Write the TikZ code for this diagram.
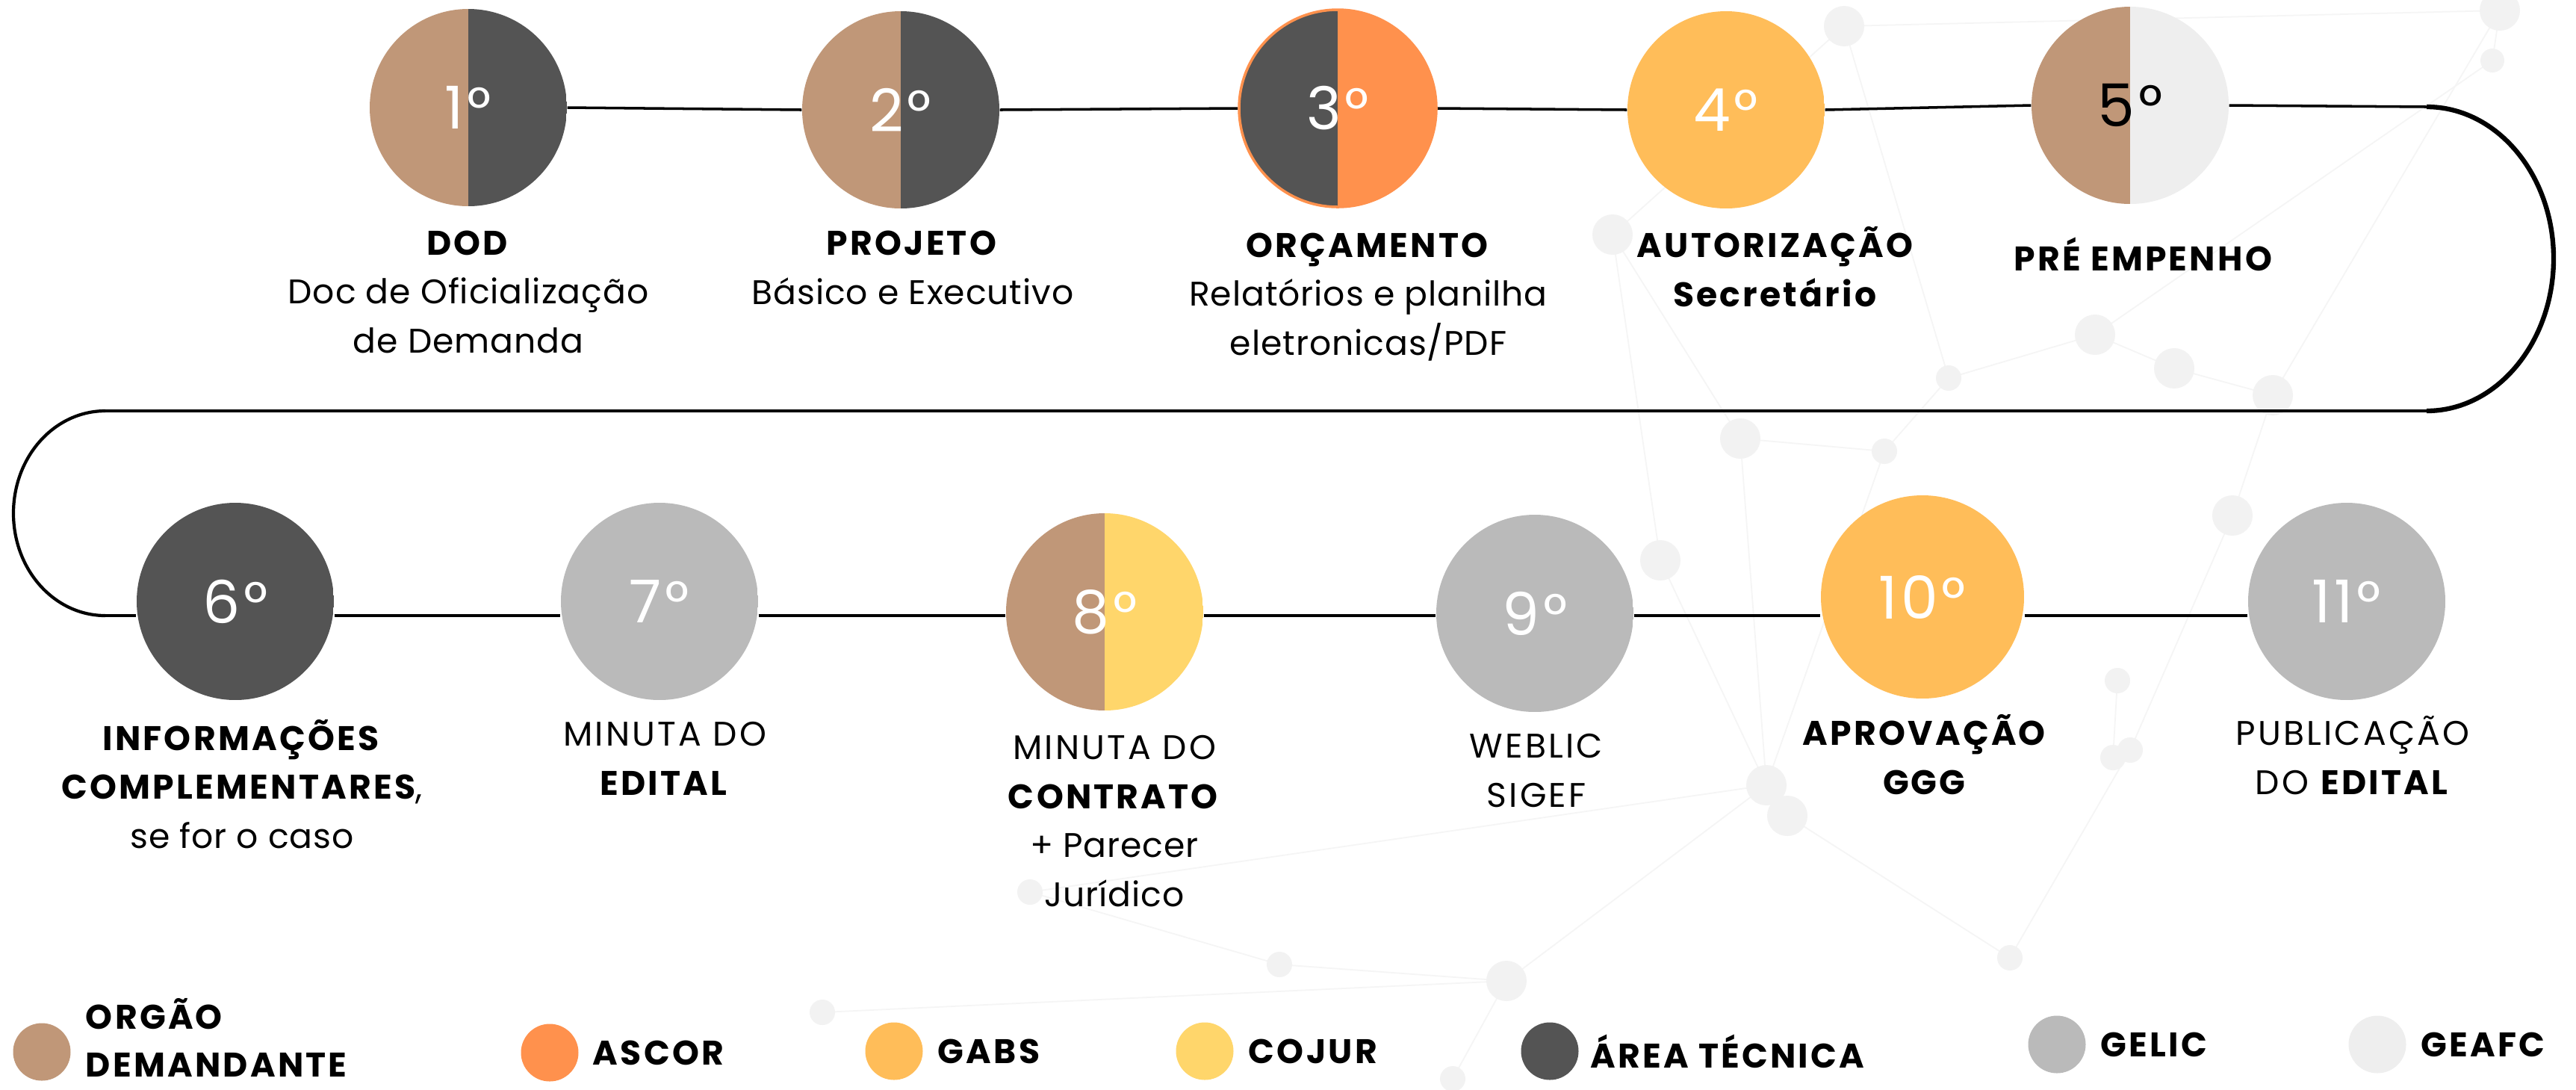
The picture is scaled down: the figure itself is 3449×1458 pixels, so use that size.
\documentclass[tikz,border=0pt]{standalone}
\usepackage{fontspec}
\setmainfont{Poppins}[LetterSpace=2, BoldFeatures={LetterSpace=7}]
\newfontfamily\largo{Poppins}[LetterSpace=7]
\newfontfamily\numeral{Poppins}[LetterSpace=6]
\usetikzlibrary{positioning,backgrounds}

\definecolor{orgao}{HTML}{C09778}
\definecolor{ascor}{HTML}{FF914D}
\definecolor{gabs}{HTML}{FFBD59}
\definecolor{cojur}{HTML}{FFD66B}
\definecolor{tecnica}{HTML}{545454}
\definecolor{gelic}{HTML}{BABABA}
\definecolor{geafc}{HTML}{EEEEEE}
\definecolor{redecor}{HTML}{F2F2F2}
\definecolor{redelin}{HTML}{F5F5F5}

\begin{document}
\begin{tikzpicture}[x=0.1mm, y=-0.1mm,
	etapa/.style 2 args={circle, minimum size=2.64cm, inner sep=0pt, text=white,
		font=\numeral\fontsize{22.5}{26}\selectfont,
		path picture={
			\fill[#1] (path picture bounding box.south west) rectangle (path picture bounding box.north);
			\fill[#2] (path picture bounding box.south) rectangle (path picture bounding box.north east);}},
	rotulo/.style={align=center, anchor=base, inner sep=0pt, font=\fontsize{13}{18.6}\selectfont},
	legenda/.style={circle, minimum size=0.77cm, inner sep=0pt, fill=#1},
	legtexto/.style={align=left, inner sep=0pt, font=\bfseries\fontsize{13}{18}\selectfont},
	linha/.style={line width=1pt},
	curva/.style={line width=1.8pt},
	rede/.style={draw=redelin, line width=0.5pt},
	ponto/.style={fill=redecor}]

		\useasboundingbox (0,0) rectangle (3449,1458);

		%---------------------
		% etapas, linha 1
		%---------------------
		\node[etapa={orgao}{tecnica}] (s1) at (627,144) {1°};
		\node[etapa={orgao}{tecnica}] (s2) at (1206,147) {2°};
		\node[etapa={tecnica}{ascor}, draw=ascor, line width=1pt] (s3) at (1791,145) {3°};
		\node[etapa={gabs}{gabs}] (s4) at (2311,147) {4°};
		\node[etapa={orgao}{geafc}, text=black] (s5) at (2852,141) {5°};

		%---------------------
		% etapas, linha 2
		%---------------------
		\node[etapa={tecnica}{tecnica}] (s6) at (315,805) {6°};
		\node[etapa={gelic}{gelic}] (s7) at (883,805) {7°};
		\node[etapa={orgao}{cojur}] (s8) at (1479,819) {8°};
		\node[etapa={gelic}{gelic}] (s9) at (2055,821) {9°};
		\node[etapa={gabs}{gabs}, minimum size=2.72cm] (s10) at (2574,799) {10°};
		\node[etapa={gelic}{gelic}] (s11) at (3142,805) {11°};

		% rotulos 1
		\node[rotulo] (t1) at (627,472) {\textbf{DOD}\\Doc de Oficialização\\de Demanda};
		\node[rotulo] (t2) at (1222,407) {\textbf{PROJETO}\\Básico e Executivo};
		\node[rotulo] (t3) at (1832,475) {\textbf{ORÇAMENTO}\\Relatórios e planilha\\eletronicas/PDF};
		\node[rotulo] (t4) at (2378,410) {\textbf{AUTORIZAÇÃO}\\\textbf{Secretário}};
		\node[rotulo] (t5) at (2871,362) {\textbf{PRÉ EMPENHO}};

		% rotulos 2
		\node[rotulo] (t6) at (324,1135) {\textbf{INFORMAÇÕES}\\\textbf{COMPLEMENTARES},\\se for o caso};
		\node[rotulo] (t7) at (890,1064) {{\largo MINUTA DO}\\\textbf{EDITAL}};
		\node[rotulo] (t8) at (1492,1213) {{\largo MINUTA DO}\\\textbf{CONTRATO}\\+ Parecer\\Jurídico};
		\node[rotulo] (t9) at (2057,1080) {{\largo WEBLIC}\\{\largo SIGEF}};
		\node[rotulo] (t10) at (2578,1063) {\textbf{APROVAÇÃO}\\\textbf{GGG}};
		\node[rotulo] (t11) at (3150,1063) {{\largo PUBLICAÇÃO}\\{\largo DO} \textbf{EDITAL}};

		%---------------------
		% legenda
		%---------------------
		\node[legenda=orgao] (k1) at (56,1408) {};
		\node[legtexto, right=0.19cm of k1, yshift=0.19cm] (k1t) {ORGÃO\\DEMANDANTE};
		\node[legenda=ascor] (k2) at (736,1409) {};
		\node[legtexto, right=0.18cm of k2] (k2t) {ASCOR};
		\node[legenda=gabs] (k3) at (1197,1407) {};
		\node[legtexto, right=0.19cm of k3] (k3t) {GABS};
		\node[legenda=cojur] (k4) at (1613,1407) {};
		\node[legtexto, right=0.19cm of k4] (k4t) {COJUR};
		\node[legenda=tecnica] (k5) at (2075,1407) {};
		\node[legtexto, right=0.15cm of k5] (k5t) {ÁREA TÉCNICA};
		\node[legenda=gelic] (k6) at (2754,1398) {};
		\node[legtexto, right=0.19cm of k6] (k6t) {GELIC};
		\node[legenda=geafc] (k7) at (3183,1398) {};
		\node[legtexto, right=0.19cm of k7] (k7t) {GEAFC};

		\begin{pgfonlayer}{background}
			\fill[white] (0,0) rectangle (3449,1458);

			%---------------------
			% rede de fundo
			%---------------------
			\coordinate (n1) at (2469,35);
			\coordinate (n2) at (3347,14);
			\coordinate (n3) at (3337,81);
			\coordinate (n4) at (2159,314);
			\coordinate (n5) at (2805,448);
			\coordinate (n6) at (2911,493);
			\coordinate (n7) at (2609,506);
			\coordinate (n8) at (3043,529);
			\coordinate (n9) at (2330,587);
			\coordinate (n10) at (2523,604);
			\coordinate (n11) at (2989,690);
			\coordinate (n12) at (2223,750);
			\coordinate (n13) at (2835,911);
			\coordinate (n14) at (2852,1004);
			\coordinate (n15) at (2829,1014);
			\coordinate (n16) at (2365,1051);
			\coordinate (n17) at (2393,1092);
			\coordinate (n18) at (2691,1282);
			\coordinate (n19) at (2017,1313);
			\coordinate (n20) at (1379,1194);
			\coordinate (n21) at (1713,1291);
			\coordinate (n22) at (1101,1355);
			\coordinate (n23) at (1945,1444);

			\draw[rede] (n1) -- (n2);
			\draw[rede] (n1) -- (n4);
			\draw[rede] (n1) -- (n7);
			\draw[rede] (n2) -- (n3);
			\draw[rede] (n2) -- (n8);
			\draw[rede] (n3) -- (n5);
			\draw[rede] (n4) -- (n9);
			\draw[rede] (n4) -- (n12);
			\draw[rede] (n9) -- (n10);
			\draw[rede] (n10) -- (n7);
			\draw[rede] (n7) -- (n5);
			\draw[rede] (n5) -- (n6);
			\draw[rede] (n6) -- (n8);
			\draw[rede] (n8) -- (n11);
			\draw[rede] (n11) -- (n14);
			\draw[rede] (n10) -- (n16);
			\draw[rede] (n9) -- (n16);
			\draw[rede] (n12) -- (n16);
			\draw[rede] (n16) -- (n17);
			\draw[rede] (n17) -- (n18);
			\draw[rede] (n16) -- (n19);
			\draw[rede] (n16) -- (n20);
			\draw[rede] (n19) -- (n21);
			\draw[rede] (n21) -- (n20);
			\draw[rede] (n22) -- (n19);
			\draw[rede] (n19) -- (n23);
			\draw[rede] (n14) -- (n18);
			\draw[rede] (n13) -- (n15);

			\fill[ponto] (n1) circle (27);
			\fill[ponto] (n2) circle (27);
			\fill[ponto] (n3) circle (16);
			\fill[ponto] (n4) circle (27);
			\fill[ponto] (n5) circle (27);
			\fill[ponto] (n6) circle (27);
			\fill[ponto] (n7) circle (17);
			\fill[ponto] (n8) circle (27);
			\fill[ponto] (n9) circle (27);
			\fill[ponto] (n10) circle (17);
			\fill[ponto] (n11) circle (27);
			\fill[ponto] (n12) circle (27);
			\fill[ponto] (n13) circle (17);
			\fill[ponto] (n14) circle (17);
			\fill[ponto] (n15) circle (17);
			\fill[ponto] (n16) circle (27);
			\fill[ponto] (n17) circle (27);
			\fill[ponto] (n18) circle (17);
			\fill[ponto] (n19) circle (27);
			\fill[ponto] (n20) circle (17);
			\fill[ponto] (n21) circle (17);
			\fill[ponto] (n22) circle (17);
			\fill[ponto] (n23) circle (17);

			%---------------------
			% linha do tempo
			%---------------------
			\coordinate (c1) at (3249,143);
			\coordinate (c2) at (3249,550);
			\coordinate (c3) at (141,550);
			\coordinate (c4) at (141,824);

			\draw[linha] (s1.east) -- (s2.west);
			\draw[linha] (s2.east) -- (s3.west);
			\draw[linha] (s3.east) -- (s4.west);
			\draw[linha] (s4.east) -- (s5.west);
			\draw[linha] (s5.east) -- (c1);
			\draw[curva] (c1) .. controls (3343,143) and (3419,234) .. (3419,346) .. controls (3419,458) and (3343,550) .. (c2);
			\draw[linha] (c2) -- (c3);
			\draw[line width=1.2pt] (c3) .. controls (73,550) and (18,611) .. (18,687) .. controls (18,763) and (73,824) .. (c4);
			\draw[linha] (c4) -- (s6.west |- c4);
			\draw[linha] (s6.east |- c4) -- (s7.west |- c4);
			\draw[linha] (s7.east |- c4) -- (s8.west |- c4);
			\draw[linha] (s8.east |- c4) -- (s9.west |- c4);
			\draw[linha] (s9.east |- c4) -- (s10.west |- c4);
			\draw[linha] (s10.east |- c4) -- (s11.west |- c4);
		\end{pgfonlayer}

\end{tikzpicture}
\end{document}
